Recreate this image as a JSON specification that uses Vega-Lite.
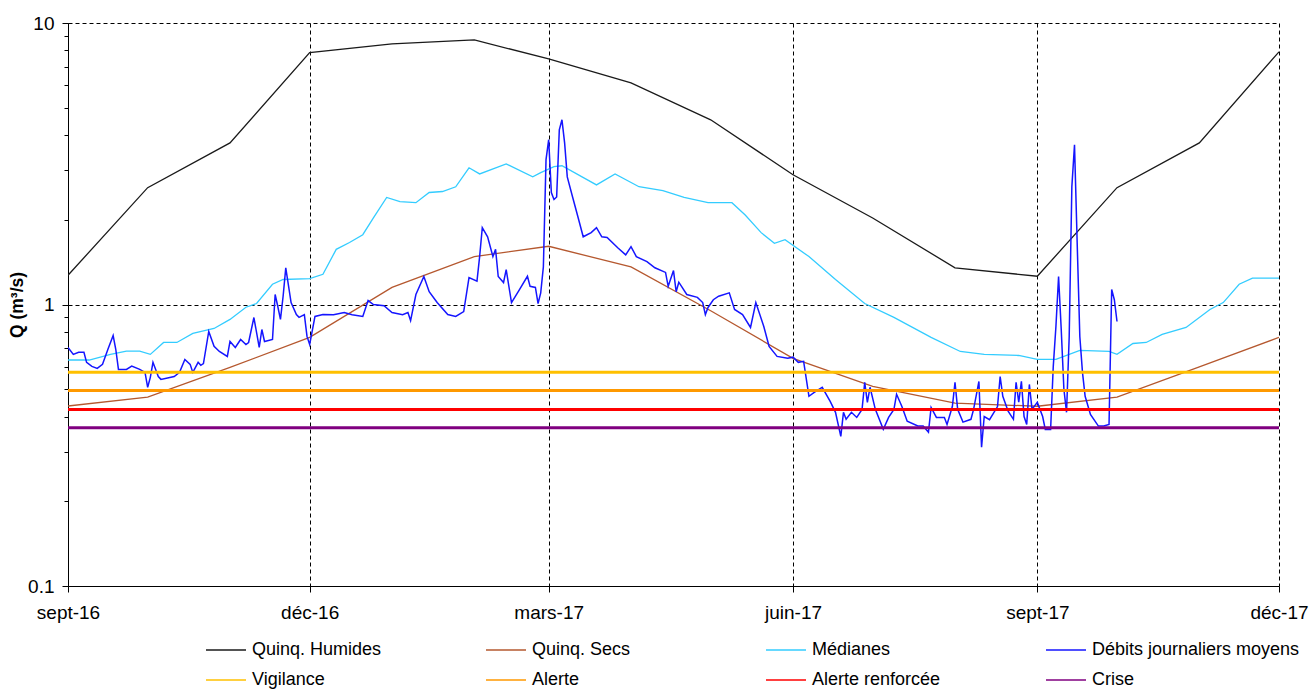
{
 "$schema": "https://vega.github.io/schema/vega-lite/v6.json",
 "width": 1211,
 "height": 563,
 "autosize": "none",
 "padding": {"left": 68, "top": 23, "right": 34, "bottom": 104},
 "background": "white",
 "config": {"view": {"stroke": null}, "font": "Liberation Sans"},
 "data": {"values": [
  {"serie":"Quinq. Humides","date":"2016-09-01","q":1.27},
  {"serie":"Quinq. Humides","date":"2016-10-01","q":2.6},
  {"serie":"Quinq. Humides","date":"2016-11-01","q":3.75},
  {"serie":"Quinq. Humides","date":"2016-12-01","q":7.85},
  {"serie":"Quinq. Humides","date":"2017-01-01","q":8.43},
  {"serie":"Quinq. Humides","date":"2017-02-01","q":8.71},
  {"serie":"Quinq. Humides","date":"2017-03-01","q":7.45},
  {"serie":"Quinq. Humides","date":"2017-04-01","q":6.13},
  {"serie":"Quinq. Humides","date":"2017-05-01","q":4.53},
  {"serie":"Quinq. Humides","date":"2017-06-01","q":2.89},
  {"serie":"Quinq. Humides","date":"2017-07-01","q":2.03},
  {"serie":"Quinq. Humides","date":"2017-08-01","q":1.35},
  {"serie":"Quinq. Humides","date":"2017-09-01","q":1.26},
  {"serie":"Quinq. Humides","date":"2017-10-01","q":2.6},
  {"serie":"Quinq. Humides","date":"2017-11-01","q":3.75},
  {"serie":"Quinq. Humides","date":"2017-12-01","q":7.9},
  {"serie":"Quinq. Secs","date":"2016-09-01","q":0.436},
  {"serie":"Quinq. Secs","date":"2016-10-01","q":0.469},
  {"serie":"Quinq. Secs","date":"2016-11-01","q":0.598},
  {"serie":"Quinq. Secs","date":"2016-12-01","q":0.764},
  {"serie":"Quinq. Secs","date":"2017-01-01","q":1.15},
  {"serie":"Quinq. Secs","date":"2017-02-01","q":1.48},
  {"serie":"Quinq. Secs","date":"2017-03-01","q":1.61},
  {"serie":"Quinq. Secs","date":"2017-04-01","q":1.36},
  {"serie":"Quinq. Secs","date":"2017-05-01","q":0.95},
  {"serie":"Quinq. Secs","date":"2017-06-01","q":0.644},
  {"serie":"Quinq. Secs","date":"2017-07-01","q":0.512},
  {"serie":"Quinq. Secs","date":"2017-08-01","q":0.446},
  {"serie":"Quinq. Secs","date":"2017-09-01","q":0.435},
  {"serie":"Quinq. Secs","date":"2017-10-01","q":0.469},
  {"serie":"Quinq. Secs","date":"2017-11-01","q":0.6},
  {"serie":"Quinq. Secs","date":"2017-12-01","q":0.764},
  {"serie":"Médianes","date":"2016-09-01","q":0.635},
  {"serie":"Médianes","date":"2016-09-09","q":0.635},
  {"serie":"Médianes","date":"2016-09-17","q":0.665},
  {"serie":"Médianes","date":"2016-09-23","q":0.683},
  {"serie":"Médianes","date":"2016-09-28","q":0.683},
  {"serie":"Médianes","date":"2016-10-02","q":0.665},
  {"serie":"Médianes","date":"2016-10-07","q":0.733},
  {"serie":"Médianes","date":"2016-10-12","q":0.733},
  {"serie":"Médianes","date":"2016-10-18","q":0.789},
  {"serie":"Médianes","date":"2016-10-26","q":0.822},
  {"serie":"Médianes","date":"2016-11-01","q":0.885},
  {"serie":"Médianes","date":"2016-11-07","q":0.978},
  {"serie":"Médianes","date":"2016-11-11","q":1.008},
  {"serie":"Médianes","date":"2016-11-17","q":1.18},
  {"serie":"Médianes","date":"2016-11-21","q":1.227},
  {"serie":"Médianes","date":"2016-12-01","q":1.235},
  {"serie":"Médianes","date":"2016-12-06","q":1.28},
  {"serie":"Médianes","date":"2016-12-11","q":1.57},
  {"serie":"Médianes","date":"2016-12-16","q":1.66},
  {"serie":"Médianes","date":"2016-12-21","q":1.77},
  {"serie":"Médianes","date":"2016-12-25","q":2.03},
  {"serie":"Médianes","date":"2016-12-30","q":2.4},
  {"serie":"Médianes","date":"2017-01-04","q":2.32},
  {"serie":"Médianes","date":"2017-01-10","q":2.3},
  {"serie":"Médianes","date":"2017-01-15","q":2.5},
  {"serie":"Médianes","date":"2017-01-20","q":2.52},
  {"serie":"Médianes","date":"2017-01-25","q":2.62},
  {"serie":"Médianes","date":"2017-01-30","q":3.06},
  {"serie":"Médianes","date":"2017-02-03","q":2.91},
  {"serie":"Médianes","date":"2017-02-13","q":3.16},
  {"serie":"Médianes","date":"2017-02-23","q":2.84},
  {"serie":"Médianes","date":"2017-02-26","q":2.94},
  {"serie":"Médianes","date":"2017-03-03","q":3.09},
  {"serie":"Médianes","date":"2017-03-06","q":3.11},
  {"serie":"Médianes","date":"2017-03-19","q":2.66},
  {"serie":"Médianes","date":"2017-03-26","q":2.91},
  {"serie":"Médianes","date":"2017-04-04","q":2.62},
  {"serie":"Médianes","date":"2017-04-13","q":2.54},
  {"serie":"Médianes","date":"2017-04-21","q":2.4},
  {"serie":"Médianes","date":"2017-04-30","q":2.3},
  {"serie":"Médianes","date":"2017-05-09","q":2.3},
  {"serie":"Médianes","date":"2017-05-14","q":2.08},
  {"serie":"Médianes","date":"2017-05-20","q":1.8},
  {"serie":"Médianes","date":"2017-05-25","q":1.65},
  {"serie":"Médianes","date":"2017-05-29","q":1.7},
  {"serie":"Médianes","date":"2017-06-07","q":1.48},
  {"serie":"Médianes","date":"2017-06-17","q":1.227},
  {"serie":"Médianes","date":"2017-06-28","q":1.008},
  {"serie":"Médianes","date":"2017-07-09","q":0.9},
  {"serie":"Médianes","date":"2017-07-23","q":0.764},
  {"serie":"Médianes","date":"2017-08-03","q":0.681},
  {"serie":"Médianes","date":"2017-08-12","q":0.665},
  {"serie":"Médianes","date":"2017-08-25","q":0.659},
  {"serie":"Médianes","date":"2017-09-01","q":0.638},
  {"serie":"Médianes","date":"2017-09-08","q":0.638},
  {"serie":"Médianes","date":"2017-09-17","q":0.687},
  {"serie":"Médianes","date":"2017-09-28","q":0.681},
  {"serie":"Médianes","date":"2017-10-01","q":0.665},
  {"serie":"Médianes","date":"2017-10-07","q":0.727},
  {"serie":"Médianes","date":"2017-10-12","q":0.733},
  {"serie":"Médianes","date":"2017-10-18","q":0.783},
  {"serie":"Médianes","date":"2017-10-27","q":0.829},
  {"serie":"Médianes","date":"2017-11-05","q":0.96},
  {"serie":"Médianes","date":"2017-11-10","q":1.016},
  {"serie":"Médianes","date":"2017-11-16","q":1.18},
  {"serie":"Médianes","date":"2017-11-21","q":1.24},
  {"serie":"Médianes","date":"2017-12-01","q":1.24},
  {"serie":"Débits journaliers moyens","date":"2016-09-01","q":0.704},
  {"serie":"Débits journaliers moyens","date":"2016-09-03","q":0.665},
  {"serie":"Débits journaliers moyens","date":"2016-09-05","q":0.677},
  {"serie":"Débits journaliers moyens","date":"2016-09-07","q":0.677},
  {"serie":"Débits journaliers moyens","date":"2016-09-08","q":0.623},
  {"serie":"Débits journaliers moyens","date":"2016-09-10","q":0.603},
  {"serie":"Débits journaliers moyens","date":"2016-09-12","q":0.593},
  {"serie":"Débits journaliers moyens","date":"2016-09-14","q":0.613},
  {"serie":"Débits journaliers moyens","date":"2016-09-16","q":0.692},
  {"serie":"Débits journaliers moyens","date":"2016-09-18","q":0.776},
  {"serie":"Débits journaliers moyens","date":"2016-09-19","q":0.692},
  {"serie":"Débits journaliers moyens","date":"2016-09-20","q":0.588},
  {"serie":"Débits journaliers moyens","date":"2016-09-23","q":0.588},
  {"serie":"Débits journaliers moyens","date":"2016-09-25","q":0.604},
  {"serie":"Débits journaliers moyens","date":"2016-09-28","q":0.588},
  {"serie":"Débits journaliers moyens","date":"2016-09-30","q":0.574},
  {"serie":"Débits journaliers moyens","date":"2016-10-01","q":0.508},
  {"serie":"Débits journaliers moyens","date":"2016-10-02","q":0.551},
  {"serie":"Débits journaliers moyens","date":"2016-10-03","q":0.623},
  {"serie":"Débits journaliers moyens","date":"2016-10-05","q":0.555},
  {"serie":"Débits journaliers moyens","date":"2016-10-06","q":0.542},
  {"serie":"Débits journaliers moyens","date":"2016-10-11","q":0.555},
  {"serie":"Débits journaliers moyens","date":"2016-10-13","q":0.574},
  {"serie":"Débits journaliers moyens","date":"2016-10-15","q":0.638},
  {"serie":"Débits journaliers moyens","date":"2016-10-17","q":0.613},
  {"serie":"Débits journaliers moyens","date":"2016-10-18","q":0.574},
  {"serie":"Débits journaliers moyens","date":"2016-10-20","q":0.623},
  {"serie":"Débits journaliers moyens","date":"2016-10-21","q":0.608},
  {"serie":"Débits journaliers moyens","date":"2016-10-22","q":0.617},
  {"serie":"Débits journaliers moyens","date":"2016-10-24","q":0.802},
  {"serie":"Débits journaliers moyens","date":"2016-10-26","q":0.71},
  {"serie":"Débits journaliers moyens","date":"2016-10-28","q":0.681},
  {"serie":"Débits journaliers moyens","date":"2016-10-31","q":0.654},
  {"serie":"Débits journaliers moyens","date":"2016-11-01","q":0.739},
  {"serie":"Débits journaliers moyens","date":"2016-11-03","q":0.704},
  {"serie":"Débits journaliers moyens","date":"2016-11-05","q":0.751},
  {"serie":"Débits journaliers moyens","date":"2016-11-07","q":0.721},
  {"serie":"Débits journaliers moyens","date":"2016-11-08","q":0.733},
  {"serie":"Débits journaliers moyens","date":"2016-11-10","q":0.899},
  {"serie":"Débits journaliers moyens","date":"2016-11-12","q":0.704},
  {"serie":"Débits journaliers moyens","date":"2016-11-13","q":0.815},
  {"serie":"Débits journaliers moyens","date":"2016-11-14","q":0.739},
  {"serie":"Débits journaliers moyens","date":"2016-11-17","q":0.751},
  {"serie":"Débits journaliers moyens","date":"2016-11-18","q":1.085},
  {"serie":"Débits journaliers moyens","date":"2016-11-19","q":0.984},
  {"serie":"Débits journaliers moyens","date":"2016-11-20","q":0.885},
  {"serie":"Débits journaliers moyens","date":"2016-11-21","q":1.07},
  {"serie":"Débits journaliers moyens","date":"2016-11-22","q":1.35},
  {"serie":"Débits journaliers moyens","date":"2016-11-24","q":1.016},
  {"serie":"Débits journaliers moyens","date":"2016-11-26","q":0.921},
  {"serie":"Débits journaliers moyens","date":"2016-11-27","q":0.9},
  {"serie":"Débits journaliers moyens","date":"2016-11-29","q":0.921},
  {"serie":"Débits journaliers moyens","date":"2016-11-30","q":0.77},
  {"serie":"Débits journaliers moyens","date":"2016-12-01","q":0.721},
  {"serie":"Débits journaliers moyens","date":"2016-12-03","q":0.907},
  {"serie":"Débits journaliers moyens","date":"2016-12-06","q":0.921},
  {"serie":"Débits journaliers moyens","date":"2016-12-10","q":0.92},
  {"serie":"Débits journaliers moyens","date":"2016-12-14","q":0.937},
  {"serie":"Débits journaliers moyens","date":"2016-12-17","q":0.92},
  {"serie":"Débits journaliers moyens","date":"2016-12-21","q":0.907},
  {"serie":"Débits journaliers moyens","date":"2016-12-23","q":1.033},
  {"serie":"Débits journaliers moyens","date":"2016-12-25","q":1.0},
  {"serie":"Débits journaliers moyens","date":"2016-12-29","q":0.99},
  {"serie":"Débits journaliers moyens","date":"2017-01-01","q":0.937},
  {"serie":"Débits journaliers moyens","date":"2017-01-05","q":0.92},
  {"serie":"Débits journaliers moyens","date":"2017-01-07","q":0.937},
  {"serie":"Débits journaliers moyens","date":"2017-01-08","q":0.877},
  {"serie":"Débits journaliers moyens","date":"2017-01-10","q":1.085},
  {"serie":"Débits journaliers moyens","date":"2017-01-13","q":1.257},
  {"serie":"Débits journaliers moyens","date":"2017-01-15","q":1.11},
  {"serie":"Débits journaliers moyens","date":"2017-01-18","q":1.016},
  {"serie":"Débits journaliers moyens","date":"2017-01-22","q":0.921},
  {"serie":"Débits journaliers moyens","date":"2017-01-25","q":0.907},
  {"serie":"Débits journaliers moyens","date":"2017-01-28","q":0.944},
  {"serie":"Débits journaliers moyens","date":"2017-01-30","q":1.247},
  {"serie":"Débits journaliers moyens","date":"2017-02-02","q":1.21},
  {"serie":"Débits journaliers moyens","date":"2017-02-03","q":1.48},
  {"serie":"Débits journaliers moyens","date":"2017-02-04","q":1.875},
  {"serie":"Débits journaliers moyens","date":"2017-02-06","q":1.74},
  {"serie":"Débits journaliers moyens","date":"2017-02-08","q":1.48},
  {"serie":"Débits journaliers moyens","date":"2017-02-09","q":1.57},
  {"serie":"Débits journaliers moyens","date":"2017-02-10","q":1.257},
  {"serie":"Débits journaliers moyens","date":"2017-02-12","q":1.197},
  {"serie":"Débits journaliers moyens","date":"2017-02-13","q":1.33},
  {"serie":"Débits journaliers moyens","date":"2017-02-15","q":1.016},
  {"serie":"Débits journaliers moyens","date":"2017-02-18","q":1.13},
  {"serie":"Débits journaliers moyens","date":"2017-02-21","q":1.26},
  {"serie":"Débits journaliers moyens","date":"2017-02-22","q":1.16},
  {"serie":"Débits journaliers moyens","date":"2017-02-24","q":1.15},
  {"serie":"Débits journaliers moyens","date":"2017-02-25","q":1.008},
  {"serie":"Débits journaliers moyens","date":"2017-02-26","q":1.1},
  {"serie":"Débits journaliers moyens","date":"2017-02-27","q":1.36},
  {"serie":"Débits journaliers moyens","date":"2017-02-28","q":3.27},
  {"serie":"Débits journaliers moyens","date":"2017-03-01","q":3.85},
  {"serie":"Débits journaliers moyens","date":"2017-03-02","q":2.5},
  {"serie":"Débits journaliers moyens","date":"2017-03-03","q":2.36},
  {"serie":"Débits journaliers moyens","date":"2017-03-04","q":2.41},
  {"serie":"Débits journaliers moyens","date":"2017-03-05","q":4.17},
  {"serie":"Débits journaliers moyens","date":"2017-03-06","q":4.53},
  {"serie":"Débits journaliers moyens","date":"2017-03-07","q":3.75},
  {"serie":"Débits journaliers moyens","date":"2017-03-08","q":2.84},
  {"serie":"Débits journaliers moyens","date":"2017-03-10","q":2.41},
  {"serie":"Débits journaliers moyens","date":"2017-03-12","q":2.05},
  {"serie":"Débits journaliers moyens","date":"2017-03-14","q":1.74},
  {"serie":"Débits journaliers moyens","date":"2017-03-17","q":1.8},
  {"serie":"Débits journaliers moyens","date":"2017-03-19","q":1.875},
  {"serie":"Débits journaliers moyens","date":"2017-03-21","q":1.74},
  {"serie":"Débits journaliers moyens","date":"2017-03-23","q":1.73},
  {"serie":"Débits journaliers moyens","date":"2017-03-27","q":1.59},
  {"serie":"Débits journaliers moyens","date":"2017-03-30","q":1.5},
  {"serie":"Débits journaliers moyens","date":"2017-04-01","q":1.605},
  {"serie":"Débits journaliers moyens","date":"2017-04-03","q":1.48},
  {"serie":"Débits journaliers moyens","date":"2017-04-07","q":1.42},
  {"serie":"Débits journaliers moyens","date":"2017-04-10","q":1.35},
  {"serie":"Débits journaliers moyens","date":"2017-04-14","q":1.3},
  {"serie":"Débits journaliers moyens","date":"2017-04-15","q":1.16},
  {"serie":"Débits journaliers moyens","date":"2017-04-17","q":1.32},
  {"serie":"Débits journaliers moyens","date":"2017-04-18","q":1.11},
  {"serie":"Débits journaliers moyens","date":"2017-04-19","q":1.2},
  {"serie":"Débits journaliers moyens","date":"2017-04-22","q":1.085},
  {"serie":"Débits journaliers moyens","date":"2017-04-26","q":1.06},
  {"serie":"Débits journaliers moyens","date":"2017-04-28","q":1.016},
  {"serie":"Débits journaliers moyens","date":"2017-04-29","q":0.921},
  {"serie":"Débits journaliers moyens","date":"2017-04-30","q":0.976},
  {"serie":"Débits journaliers moyens","date":"2017-05-02","q":1.04},
  {"serie":"Débits journaliers moyens","date":"2017-05-04","q":1.07},
  {"serie":"Débits journaliers moyens","date":"2017-05-08","q":1.1},
  {"serie":"Débits journaliers moyens","date":"2017-05-10","q":0.96},
  {"serie":"Débits journaliers moyens","date":"2017-05-13","q":0.921},
  {"serie":"Débits journaliers moyens","date":"2017-05-16","q":0.829},
  {"serie":"Débits journaliers moyens","date":"2017-05-18","q":1.016},
  {"serie":"Débits journaliers moyens","date":"2017-05-21","q":0.835},
  {"serie":"Débits journaliers moyens","date":"2017-05-23","q":0.71},
  {"serie":"Débits journaliers moyens","date":"2017-05-26","q":0.654},
  {"serie":"Débits journaliers moyens","date":"2017-05-30","q":0.644},
  {"serie":"Débits journaliers moyens","date":"2017-06-01","q":0.65},
  {"serie":"Débits journaliers moyens","date":"2017-06-03","q":0.623},
  {"serie":"Débits journaliers moyens","date":"2017-06-05","q":0.628},
  {"serie":"Débits journaliers moyens","date":"2017-06-07","q":0.472},
  {"serie":"Débits journaliers moyens","date":"2017-06-09","q":0.487},
  {"serie":"Débits journaliers moyens","date":"2017-06-12","q":0.508},
  {"serie":"Débits journaliers moyens","date":"2017-06-15","q":0.453},
  {"serie":"Débits journaliers moyens","date":"2017-06-17","q":0.414},
  {"serie":"Débits journaliers moyens","date":"2017-06-19","q":0.34},
  {"serie":"Débits journaliers moyens","date":"2017-06-20","q":0.414},
  {"serie":"Débits journaliers moyens","date":"2017-06-21","q":0.391},
  {"serie":"Débits journaliers moyens","date":"2017-06-23","q":0.414},
  {"serie":"Débits journaliers moyens","date":"2017-06-25","q":0.397},
  {"serie":"Débits journaliers moyens","date":"2017-06-27","q":0.424},
  {"serie":"Débits journaliers moyens","date":"2017-06-28","q":0.529},
  {"serie":"Débits journaliers moyens","date":"2017-06-29","q":0.449},
  {"serie":"Débits journaliers moyens","date":"2017-06-30","q":0.508},
  {"serie":"Débits journaliers moyens","date":"2017-07-02","q":0.424},
  {"serie":"Débits journaliers moyens","date":"2017-07-05","q":0.36},
  {"serie":"Débits journaliers moyens","date":"2017-07-07","q":0.397},
  {"serie":"Débits journaliers moyens","date":"2017-07-09","q":0.424},
  {"serie":"Débits journaliers moyens","date":"2017-07-10","q":0.48},
  {"serie":"Débits journaliers moyens","date":"2017-07-12","q":0.434},
  {"serie":"Débits journaliers moyens","date":"2017-07-14","q":0.385},
  {"serie":"Débits journaliers moyens","date":"2017-07-18","q":0.37},
  {"serie":"Débits journaliers moyens","date":"2017-07-20","q":0.37},
  {"serie":"Débits journaliers moyens","date":"2017-07-22","q":0.352},
  {"serie":"Débits journaliers moyens","date":"2017-07-23","q":0.431},
  {"serie":"Débits journaliers moyens","date":"2017-07-25","q":0.397},
  {"serie":"Débits journaliers moyens","date":"2017-07-28","q":0.397},
  {"serie":"Débits journaliers moyens","date":"2017-07-29","q":0.375},
  {"serie":"Débits journaliers moyens","date":"2017-07-31","q":0.434},
  {"serie":"Débits journaliers moyens","date":"2017-08-01","q":0.529},
  {"serie":"Débits journaliers moyens","date":"2017-08-02","q":0.424},
  {"serie":"Débits journaliers moyens","date":"2017-08-04","q":0.382},
  {"serie":"Débits journaliers moyens","date":"2017-08-07","q":0.391},
  {"serie":"Débits journaliers moyens","date":"2017-08-08","q":0.424},
  {"serie":"Débits journaliers moyens","date":"2017-08-10","q":0.533},
  {"serie":"Débits journaliers moyens","date":"2017-08-11","q":0.311},
  {"serie":"Débits journaliers moyens","date":"2017-08-12","q":0.4},
  {"serie":"Débits journaliers moyens","date":"2017-08-14","q":0.39},
  {"serie":"Débits journaliers moyens","date":"2017-08-17","q":0.434},
  {"serie":"Débits journaliers moyens","date":"2017-08-18","q":0.555},
  {"serie":"Débits journaliers moyens","date":"2017-08-19","q":0.472},
  {"serie":"Débits journaliers moyens","date":"2017-08-21","q":0.418},
  {"serie":"Débits journaliers moyens","date":"2017-08-23","q":0.391},
  {"serie":"Débits journaliers moyens","date":"2017-08-24","q":0.529},
  {"serie":"Débits journaliers moyens","date":"2017-08-25","q":0.45},
  {"serie":"Débits journaliers moyens","date":"2017-08-26","q":0.533},
  {"serie":"Débits journaliers moyens","date":"2017-08-27","q":0.4},
  {"serie":"Débits journaliers moyens","date":"2017-08-28","q":0.375},
  {"serie":"Débits journaliers moyens","date":"2017-08-29","q":0.52},
  {"serie":"Débits journaliers moyens","date":"2017-08-30","q":0.424},
  {"serie":"Débits journaliers moyens","date":"2017-09-01","q":0.449},
  {"serie":"Débits journaliers moyens","date":"2017-09-03","q":0.4},
  {"serie":"Débits journaliers moyens","date":"2017-09-04","q":0.36},
  {"serie":"Débits journaliers moyens","date":"2017-09-06","q":0.36},
  {"serie":"Débits journaliers moyens","date":"2017-09-07","q":0.603},
  {"serie":"Débits journaliers moyens","date":"2017-09-08","q":0.835},
  {"serie":"Débits journaliers moyens","date":"2017-09-09","q":1.257},
  {"serie":"Débits journaliers moyens","date":"2017-09-10","q":0.815},
  {"serie":"Débits journaliers moyens","date":"2017-09-11","q":0.5},
  {"serie":"Débits journaliers moyens","date":"2017-09-12","q":0.414},
  {"serie":"Débits journaliers moyens","date":"2017-09-13","q":0.77},
  {"serie":"Débits journaliers moyens","date":"2017-09-14","q":2.62},
  {"serie":"Débits journaliers moyens","date":"2017-09-15","q":3.69},
  {"serie":"Débits journaliers moyens","date":"2017-09-16","q":1.66},
  {"serie":"Débits journaliers moyens","date":"2017-09-17","q":0.77},
  {"serie":"Débits journaliers moyens","date":"2017-09-18","q":0.574},
  {"serie":"Débits journaliers moyens","date":"2017-09-19","q":0.472},
  {"serie":"Débits journaliers moyens","date":"2017-09-21","q":0.407},
  {"serie":"Débits journaliers moyens","date":"2017-09-24","q":0.37},
  {"serie":"Débits journaliers moyens","date":"2017-09-26","q":0.37},
  {"serie":"Débits journaliers moyens","date":"2017-09-28","q":0.375},
  {"serie":"Débits journaliers moyens","date":"2017-09-29","q":1.13},
  {"serie":"Débits journaliers moyens","date":"2017-09-30","q":1.04},
  {"serie":"Débits journaliers moyens","date":"2017-10-01","q":0.87},
  {"serie":"Vigilance","date":"2016-09-01","q":0.574},
  {"serie":"Vigilance","date":"2017-12-01","q":0.574},
  {"serie":"Alerte","date":"2016-09-01","q":0.495},
  {"serie":"Alerte","date":"2017-12-01","q":0.495},
  {"serie":"Alerte renforcée","date":"2016-09-01","q":0.424},
  {"serie":"Alerte renforcée","date":"2017-12-01","q":0.424},
  {"serie":"Crise","date":"2016-09-01","q":0.365},
  {"serie":"Crise","date":"2017-12-01","q":0.365}
 ]},
 "encoding": {
  "x": {"field": "date", "type": "temporal",
   "scale": {"type": "utc", "nice": false, "domain": [{"year": 2016, "month": 9, "date": 1, "utc": true}, {"year": 2017, "month": 12, "date": 1, "utc": true}]},
   "axis": {"title": null,
    "values": [{"year": 2016, "month": 9, "date": 1, "utc": true}, {"year": 2016, "month": 12, "date": 1, "utc": true}, {"year": 2017, "month": 3, "date": 1, "utc": true}, {"year": 2017, "month": 6, "date": 1, "utc": true}, {"year": 2017, "month": 9, "date": 1, "utc": true}, {"year": 2017, "month": 12, "date": 1, "utc": true}],
    "labelExpr": "(utcmonth(datum.value)==8?'sept':utcmonth(datum.value)==11?'déc':utcmonth(datum.value)==2?'mars':'juin')+'-'+utcFormat(datum.value,'%y')",
    "grid": true, "gridColor": "black", "gridDash": [4, 3], "gridWidth": 1,
    "domainColor": "black", "domainWidth": 1, "tickColor": "black", "tickSize": 6,
    "labelFontSize": 19, "labelColor": "black", "labelFont": "Liberation Sans", "labelPadding": 11, "labelFlush": false, "labelOverlap": false}},
  "y": {"field": "q", "type": "quantitative",
   "scale": {"type": "log", "domain": [0.1, 10], "nice": false},
   "axis": {"title": "Q (m³/s)", "titleFontSize": 17.5, "titleFontWeight": "bold", "titleColor": "black", "titleFont": "Liberation Sans", "titlePadding": 1,
    "values": [0.1, 0.2, 0.3, 0.4, 0.5, 0.6, 0.7, 0.8, 0.9, 1, 2, 3, 4, 5, 6, 7, 8, 9, 10],
    "labelExpr": "datum.value==0.1?'0.1':datum.value==1?'1':datum.value==10?'10':''",
    "grid": true, "gridColor": "black", "gridDash": [4, 3], "gridWidth": 1,
    "gridOpacity": {"condition": {"test": "datum.value==1||datum.value==10", "value": 1}, "value": 0},
    "tickSize": {"condition": {"test": "datum.value==0.1||datum.value==1||datum.value==10", "value": 6}, "value": 4},
    "domainColor": "black", "tickColor": "black",
    "labelFontSize": 19, "labelColor": "black", "labelFont": "Liberation Sans", "labelPadding": 8, "labelOverlap": false}},
  "color": {"field": "serie", "type": "nominal",
   "scale": {"domain": ["Quinq. Humides", "Quinq. Secs", "Médianes", "Débits journaliers moyens", "Vigilance", "Alerte", "Alerte renforcée", "Crise"],
    "range": ["#1a1a1a", "#B5582F", "#33CCFF", "#1515FF", "#FFC000", "#FF9900", "#FF0000", "#800080"]},
   "legend": {"title": null, "orient": "none", "legendX": 137, "legendY": 606, "direction": "horizontal", "columns": 4, "gridAlign": "all", "columnPadding": 23, "rowPadding": -17,
    "symbolType": "stroke", "symbolSize": 1600, "symbolStrokeWidth": 1.5, "labelOffset": 5,
    "labelFontSize": 18, "labelColor": "black", "labelFont": "Liberation Sans", "labelLimit": 400}}
 },
 "layer": [
  {"transform": [{"filter": {"field": "serie", "oneOf": ["Quinq. Humides", "Quinq. Secs", "Médianes"]}}],
   "mark": {"type": "line", "strokeWidth": 1.3, "clip": true}},
  {"transform": [{"filter": {"field": "serie", "equal": "Débits journaliers moyens"}}],
   "mark": {"type": "line", "strokeWidth": 1.5, "clip": true}},
  {"transform": [{"filter": {"field": "serie", "oneOf": ["Vigilance", "Alerte", "Alerte renforcée", "Crise"]}}],
   "mark": {"type": "line", "strokeWidth": 3, "clip": true}}
 ]
}
